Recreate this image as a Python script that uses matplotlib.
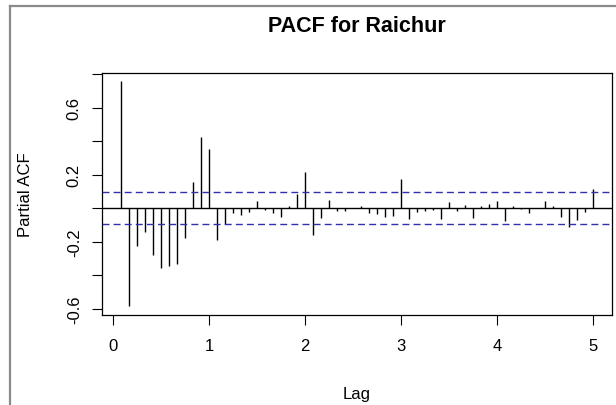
import numpy as np
import matplotlib
matplotlib.use("Agg")
import matplotlib.pyplot as plt
from matplotlib.lines import Line2D

plt.rcParams['font.family'] = ['Liberation Sans', 'DejaVu Sans']

# partial autocorrelations, monthly series (frequency 12), lags 1..60
pacf_vals = [0.758, -0.585, -0.223, -0.143, -0.277, -0.358, -0.342, -0.332, -0.175, 0.159, 0.424, 0.350,
             -0.189, -0.096, -0.030, -0.038, -0.022, 0.042, -0.010, -0.030, -0.052, 0.010, 0.086, 0.215,
             -0.159, -0.060, 0.048, -0.018, -0.018, 0.002, 0.010, -0.028, -0.034, -0.052, -0.044, 0.173,
             -0.066, -0.020, -0.018, -0.012, -0.062, 0.036, -0.018, 0.016, -0.060, 0.010, 0.022, 0.042,
             -0.074, 0.010, -0.004, -0.028, 0.003, 0.042, 0.014, -0.054, -0.110, -0.068, -0.020, 0.117]
lags = np.arange(1, len(pacf_vals) + 1) / 12.0
conf = 0.094

xticks = [0, 1, 2, 3, 4, 5]
yticks = [-0.6, -0.4, -0.2, 0.0, 0.2, 0.4, 0.6, 0.8]
ytick_labels = ["-0.6", "", "-0.2", "", "0.2", "", "0.6", ""]

W, H = 616, 406
fig = plt.figure(figsize=(W / 100, H / 100), dpi=100)
ax = fig.add_axes([102 / W, 1 - 316 / H, 510 / W, 242 / H])

ax.vlines(lags, 0, pacf_vals, color="black", lw=1)
ax.axhline(0, color="black", lw=1)
ax.axhline(conf, color="#3030b0", lw=1, ls=(0, (5, 3)))
ax.axhline(-conf, color="#3030b0", lw=1, ls=(0, (5, 3)))

ax.set_xlim(-0.113, 5.197)
ax.set_ylim(-0.637, 0.806)
ax.set_xticks(xticks)
ax.set_xticklabels([str(t) for t in xticks])
ax.set_yticks(yticks)
ax.set_yticklabels(ytick_labels, rotation=90, va="center")
ax.tick_params(axis="both", length=7.5, width=0.8, labelsize=12, color="black")
ax.tick_params(axis="x", pad=9)
ax.tick_params(axis="y", pad=7)
for s in ax.spines.values():
    s.set_linewidth(0.9)
    s.set_color("black")

fig.text(357 / W, 1 - 31.5 / H, "PACF for Raichur", ha="center", va="baseline",
         fontsize=15.5, fontweight="bold")
fig.text(357 / W, 1 - 399 / H, "Lag", ha="center", va="baseline", fontsize=12)
fig.text(26 / W, 1 - 195 / H, "Partial ACF", ha="center", va="center", rotation=90, fontsize=12)

# grey window frame at left and top
fig.add_artist(Line2D([9.5 / W, 9.5 / W], [0, 1 - 7 / H], transform=fig.transFigure, color="#8a8a8a", lw=1.6))
fig.add_artist(Line2D([9.5 / W, 1], [1 - 7 / H, 1 - 7 / H], transform=fig.transFigure, color="#8a8a8a", lw=1.6))

fig.savefig("out.png", dpi=100)
